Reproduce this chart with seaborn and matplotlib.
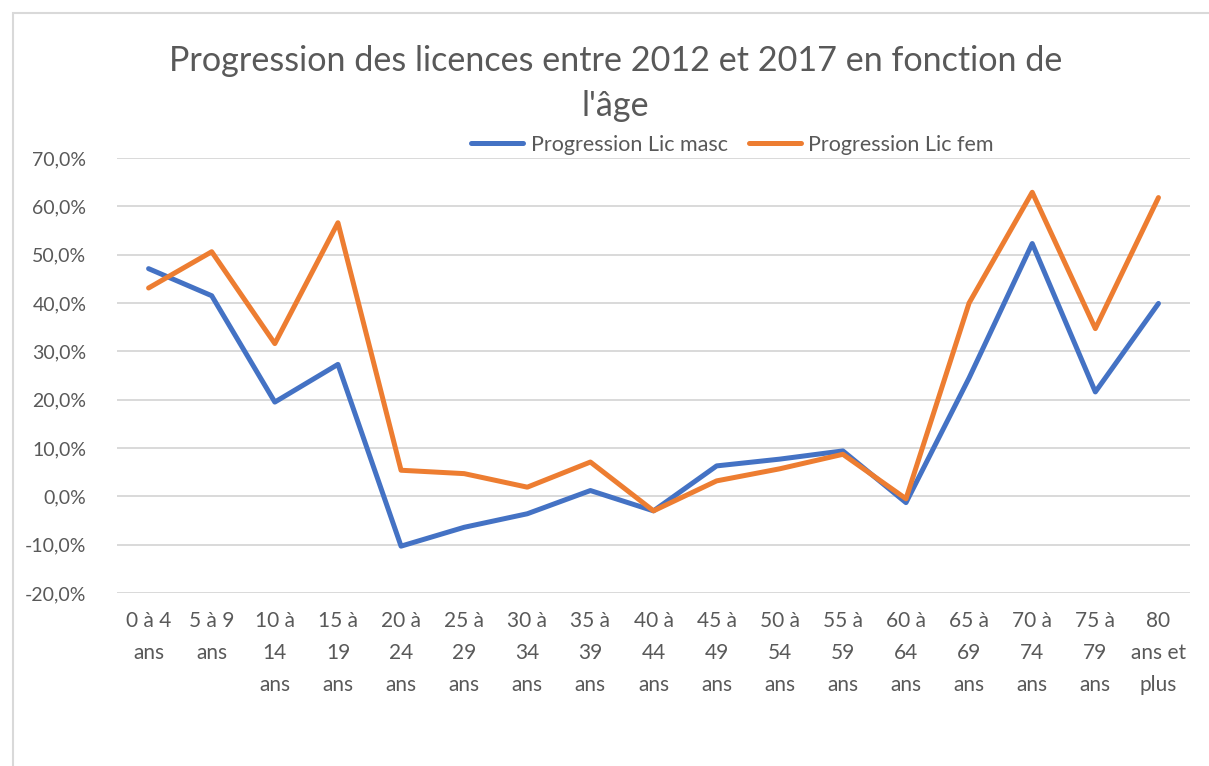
import pandas as pd
import seaborn as sns
from matplotlib import pyplot as plt
from matplotlib.patches import Rectangle

# age groups (tick labels wrapped like in the original chart)
ages = ['0 à 4\nans', '5 à 9\nans', '10 à\n14\nans', '15 à\n19\nans', '20 à\n24\nans',
        '25 à\n29\nans', '30 à\n34\nans', '35 à\n39\nans', '40 à\n44\nans', '45 à\n49\nans',
        '50 à\n54\nans', '55 à\n59\nans', '60 à\n64\nans', '65 à\n69\nans', '70 à\n74\nans',
        '75 à\n79\nans', '80\nans et\nplus']

# progression in percent
prog_masc = [47.1, 41.5, 19.5, 27.3, -10.3, -6.4, -3.6, 1.2, -3.0, 6.3,
             7.7, 9.4, -1.3, 24.5, 52.3, 21.6, 39.9]
prog_fem = [43.1, 50.6, 31.6, 56.6, 5.4, 4.7, 1.9, 7.1, -3.0, 3.2,
            5.7, 8.7, -0.5, 40.0, 62.9, 34.7, 61.8]

yticks = [-20, -10, 0, 10, 20, 30, 40, 50, 60, 70]

df = pd.DataFrame({
    'age': ages * 2,
    'prog': prog_masc + prog_fem,
    'serie': ['Progression Lic masc'] * len(ages) + ['Progression Lic fem'] * len(ages),
})

sns.set_theme(style='white')
plt.rcParams['font.family'] = ['Lato', 'DejaVu Sans']

grey = '#595959'
fig = plt.figure(figsize=(12.09, 7.66), dpi=100)
ax = fig.add_axes([0.0968, 0.2258, 0.8875, 0.568])

sns.lineplot(data=df, x='age', y='prog', hue='serie', sort=False,
             palette=['#4472C4', '#ED7D31'], linewidth=3.6, ax=ax, legend=True)
for line in ax.lines:
    line.set_solid_capstyle('round')
    line.set_solid_joinstyle('round')

ax.set_xlim(-0.5, len(ages) - 0.5)
ax.set_ylim(-20, 70)
ax.set_yticks(yticks)
ax.set_yticklabels([f'{v:.1f}%'.replace('.', ',') for v in yticks])
ax.yaxis.grid(True, color='#D9D9D9', linewidth=1.4)
ax.set_axisbelow(True)
for s in ax.spines.values():
    s.set_visible(False)
ax.tick_params(axis='both', length=0, labelsize=14, labelcolor=grey)
ax.tick_params(axis='x', labelsize=15, pad=13)
ax.tick_params(axis='y', pad=22)
for lab in ax.get_xticklabels():
    lab.set_linespacing(1.75)
ax.set_xlabel('')
ax.set_ylabel('')

handles, labels = ax.get_legend_handles_labels()
ax.legend(handles, labels, loc='center', bbox_to_anchor=(0.606, 0.811),
          bbox_transform=fig.transFigure, ncol=2, frameon=False,
          fontsize=15.5, handlelength=2.4, columnspacing=1.0, handletextpad=0.35,
          labelcolor=grey)

fig.text(0.509, 0.891, "Progression des licences entre 2012 et 2017 en fonction de\nl'âge",
         ha='center', va='center', fontsize=24.6, color=grey, linespacing=1.5)

# outer chart border
fig.patches.append(Rectangle((13 / 1209, -0.1), 1.2, 1 - 13 / 766 + 0.1,
                             transform=fig.transFigure, fill=False,
                             edgecolor='#D9D9D9', linewidth=1.5))

fig.savefig('out.png', dpi=100)
